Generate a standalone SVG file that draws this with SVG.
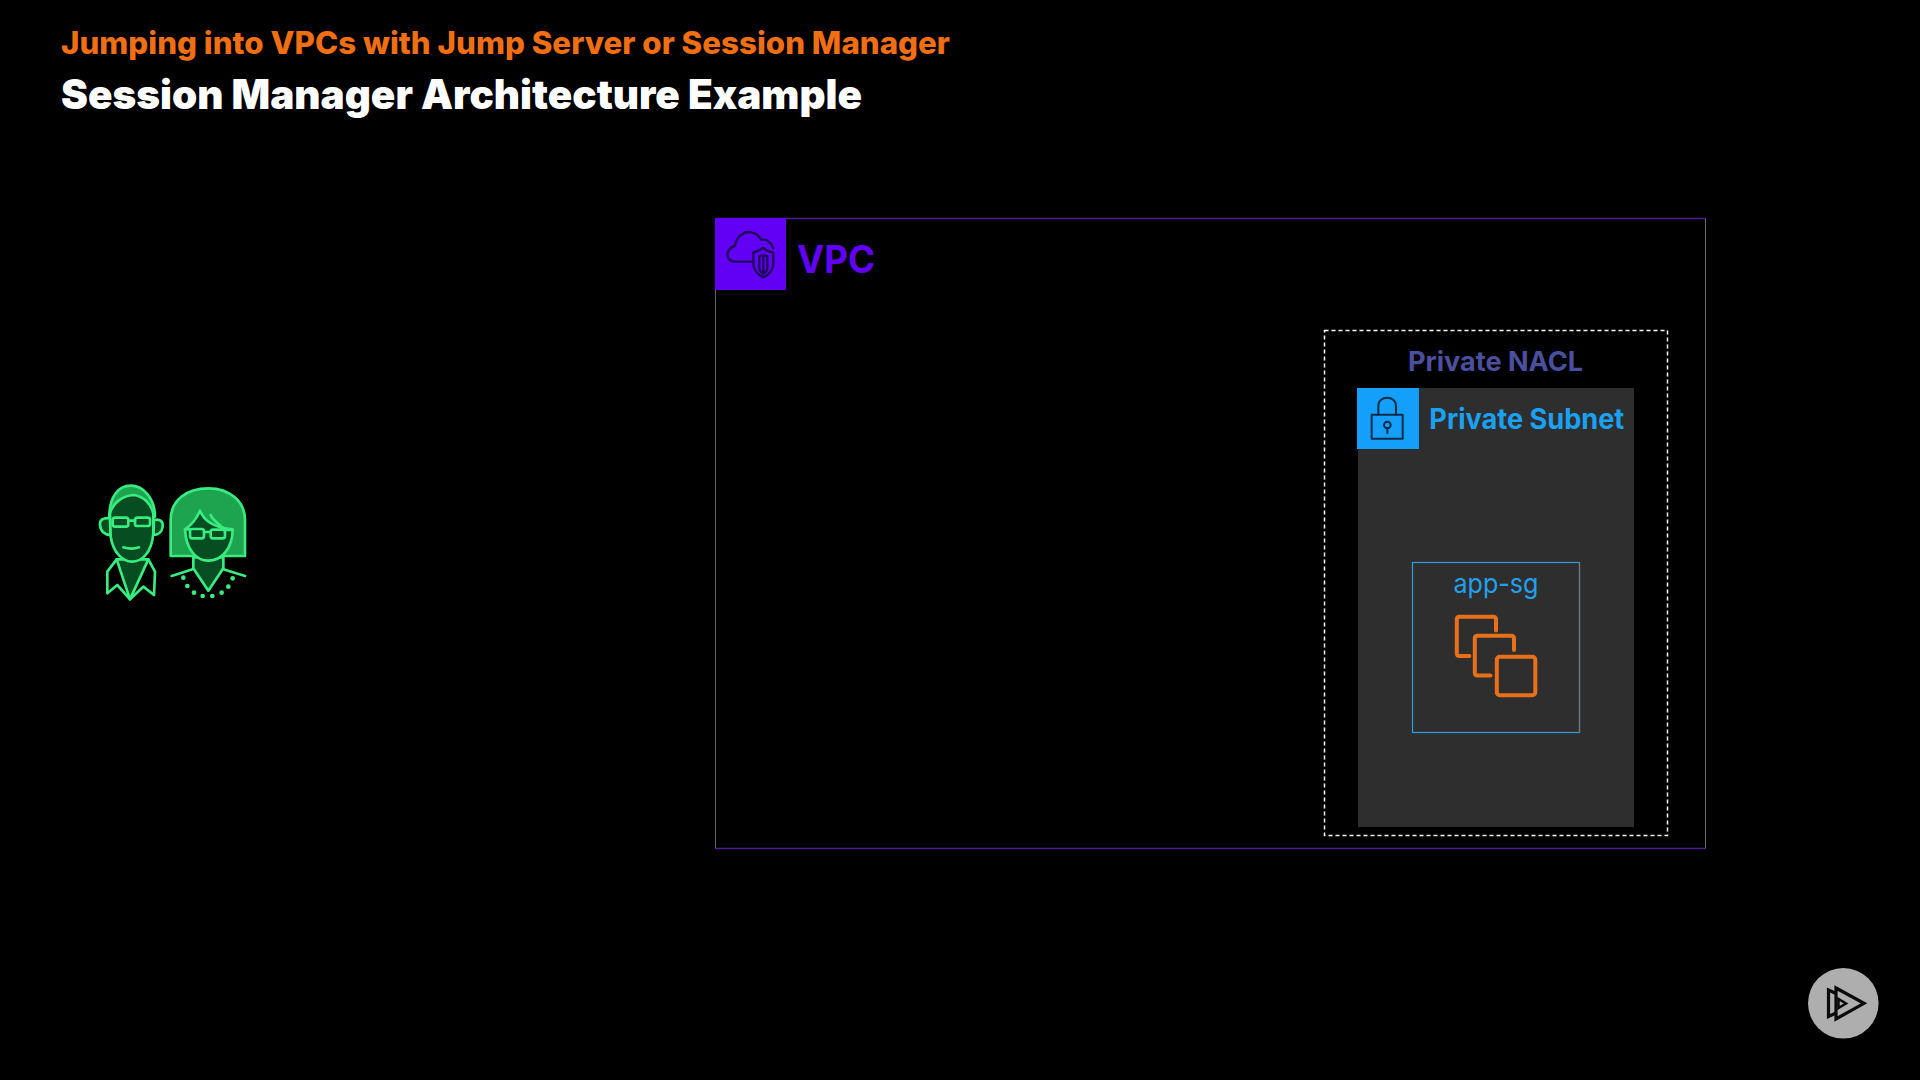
<svg xmlns="http://www.w3.org/2000/svg" width="1920" height="1080" viewBox="0 0 1920 1080">
<style>
text{font-family:"Inter","Liberation Sans",sans-serif}
.t1{font-size:31px;font-weight:800;fill:#f06f13}
.t2{font-size:41px;font-weight:900;fill:#fff}
.pg{stroke:#38ec80;stroke-width:8;stroke-linejoin:round;stroke-linecap:round;fill:none}
.dk{fill:#064d22}
.hr{fill:#1ea34f}
.ic{fill:none;stroke-linecap:round;stroke-linejoin:round}
</style>
<rect width="1920" height="1080" fill="#000"/>
<g id="title">
<text class="t1" x="61" y="54" textLength="889" lengthAdjust="spacingAndGlyphs">Jumping into VPCs with Jump Server or Session Manager</text>
<text class="t2" x="61" y="109" textLength="801" lengthAdjust="spacingAndGlyphs">Session Manager Architecture Example</text>
</g>
<g id="users" transform="translate(80 470) scale(.33333)">
<path class="pg hr" d="M88,140C88,80 115,47 152,47C190,47 225,85 225,140Z"/>
<path class="pg dk" d="M90,145C70,142 58,150 60,165C62,185 75,195 92,195ZM222,150C240,145 250,155 248,170C246,185 235,195 220,195Z"/>
<path class="pg" d="M110,268L82,305L82,370L112,345L150,388L190,350L222,375L225,305L205,268"/>
<path class="pg dk" d="M110,268L150,388L205,268Z"/>
<path class="pg dk" d="M90,130C100,95 130,78 160,75C190,78 212,100 220,130V190C215,250 185,275 155,275C130,275 100,250 92,200Z"/>
<rect class="pg" x="98" y="143" width="47" height="27" rx="7"/>
<rect class="pg" x="165" y="143" width="45" height="25" rx="7"/>
<path class="pg" d="M145,152H165M130,232Q155,240 177,232"/>
<path class="pg hr" d="M272,258V150C272,90 320,55 385,55C450,55 495,95 495,150V258Z"/>
<path class="pg dk" d="M340,262V295L385,362L430,295V262Z"/>
<path class="pg dk" d="M315,178C335,165 350,145 360,122C372,150 395,172 458,178C458,235 425,272 385,272C350,272 318,240 315,178Z"/>
<path class="pg" d="M392,135C400,155 425,165 432,180"/>
<rect class="pg" x="330" y="177" width="42" height="28" rx="7"/>
<rect class="pg" x="392" y="179" width="43" height="26" rx="7"/>
<path class="pg" d="M372,186H392M315,178H330M435,180H458M275,318L338,298M430,298L495,318"/>
<g fill="#38ec80"><circle cx="310" cy="323" r="7"/><circle cx="322" cy="348" r="7"/><circle cx="342" cy="368" r="7"/><circle cx="368" cy="378" r="7"/><circle cx="397" cy="378" r="7"/><circle cx="425" cy="368" r="7"/><circle cx="445" cy="350" r="7"/><circle cx="458" cy="325" r="7"/></g>
</g>
<g id="vpc">
<path d="M715.5,218.500H1705.500M715.500,848.500H1705.500" stroke="#4b1d96" stroke-width="1.500" fill="none"/>
<path d="M715.500,218.500V848.500M1705.500,218.500V848.500" stroke="#666" stroke-width="1" fill="none"/>
<rect x="715" y="218" width="71" height="72" fill="#6200f5"/>
<g transform="translate(700 200) scale(.33333)" class="ic" stroke="#1f0a5c" stroke-width="7">
<path d="M160,185H105C85,185 78,165 85,155C88,145 95,140 105,138C108,110 135,90 155,98C175,100 180,115 185,120C200,115 215,130 220,145"/>
<path d="M190,143C175,155 165,155 160,158V190C160,210 175,225 190,232C205,225 220,210 220,190V158C210,155 200,155 190,143Z"/>
<path d="M178,168V205C178,212 184,218 190,222C196,218 202,212 202,205V168C196,166 184,166 178,168ZM190,166V222"/>
</g>
<text x="797" y="272.700" font-size="38" font-weight="700" fill="#6200f5" textLength="78" lengthAdjust="spacingAndGlyphs">VPC</text>
</g>
<g id="nacl">
<rect x="1324.500" y="330.500" width="343" height="505" fill="none" stroke="#fff" stroke-width="1.500" stroke-dasharray="4 3"/>
<text x="1495.500" y="370.700" font-size="27" font-weight="700" fill="#4b4f9e" text-anchor="middle" textLength="175" lengthAdjust="spacingAndGlyphs">Private NACL</text>
</g>
<g id="subnet">
<rect x="1358" y="388" width="276" height="439" fill="#2e2e2e"/>
<rect x="1357" y="388" width="62" height="61" fill="#14a0fa"/>
<g transform="translate(1310 320) scale(.33333)" class="ic" stroke="#0b2b4a" stroke-width="6">
<rect x="185" y="284" width="93" height="72"/>
<path d="M205,284V258C205,225 258,225 258,258V284"/>
<circle cx="232" cy="315" r="10"/>
<path d="M232,325V340"/>
</g>
<text x="1429.300" y="429" font-size="28" font-weight="700" fill="#1ba1f2" textLength="195" lengthAdjust="spacingAndGlyphs">Private Subnet</text>
</g>
<g id="app-sg">
<rect x="1412.500" y="562.500" width="167" height="170" fill="none" stroke="#2f9be0" stroke-width="1.200"/>
<path d="M1579.500,562.500V732.500" stroke="#777" stroke-width="1.200" fill="none"/>
<text x="1496" y="592.700" font-size="27" font-weight="400" fill="#22a0ee" text-anchor="middle" textLength="85" lengthAdjust="spacingAndGlyphs">app-sg</text>
<g class="ic" stroke="#e8701a" stroke-width="4">
<rect x="1496.800" y="656.800" width="38.500" height="38.500" rx="3"/>
<path d="M1490.500,675.500H1477.500Q1474.800,675.500 1474.800,672.500V638.500Q1474.800,635.700 1477.500,635.700H1511Q1514,635.700 1514,638.500V650"/>
<path d="M1469.500,656H1459.500Q1456.800,656 1456.800,653V619.500Q1456.800,616.800 1459.500,616.800H1493Q1496,616.800 1496,619.500V630.500"/>
</g>
</g>
<g id="play">
<circle cx="1843.300" cy="1003.300" r="35.300" fill="#aeaeae"/>
<g fill="none" stroke="#0a0a0a" stroke-width="3.200" stroke-linejoin="miter">
<path d="M1836,988L1864,1003.300L1836,1019Z"/>
<path d="M1836,993.500L1828.500,990V1016.500L1836,1013"/>
<path d="M1838.500,999V1008L1846,1003.500Z" stroke-width="2.500"/>
</g>
</g>
</svg>
